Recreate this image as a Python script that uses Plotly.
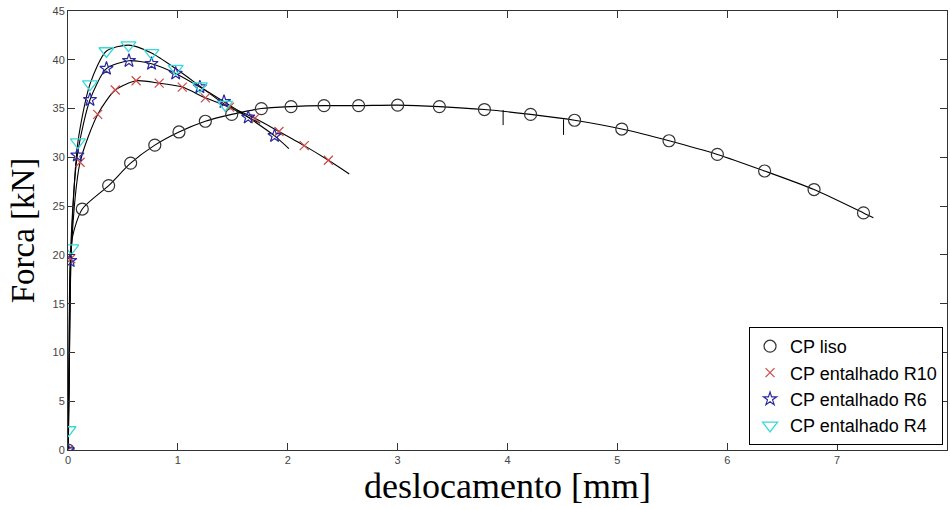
import plotly.graph_objects as go

# ---------------- data ----------------
# CP liso (circles)
liso_mx = [0, 0.13, 0.37, 0.57, 0.79, 1.01, 1.25, 1.49, 1.76, 2.03, 2.33, 2.645,
           3.0, 3.38, 3.79, 4.21, 4.61, 5.04, 5.47, 5.91, 6.34, 6.79, 7.24]
liso_my = [0, 24.7, 27.1, 29.4, 31.25, 32.6, 33.7, 34.4, 35.0, 35.2, 35.3, 35.3,
           35.35, 35.2, 34.9, 34.4, 33.8, 32.9, 31.7, 30.3, 28.6, 26.7, 24.3]
liso_lx = [0, 0.01, 0.02, 0.04, 0.13, 0.37, 0.57, 0.79, 1.01, 1.25, 1.49, 1.76, 2.03,
           2.33, 2.645, 3.0, 3.38, 3.79, 4.21, 4.61, 5.04, 5.47, 5.91, 6.34, 6.79,
           7.24, 7.33]
liso_ly = [0, 6, 16, 21.8, 24.7, 27.1, 29.4, 31.25, 32.6, 33.7, 34.4, 35.0, 35.2,
           35.3, 35.3, 35.35, 35.2, 34.9, 34.4, 33.8, 32.9, 31.7, 30.3, 28.6, 26.7,
           24.3, 23.8]
# small drops in the CP liso record
spike_x = [3.96, 4.51]
spike_top = [34.85, 33.9]
spike_bottom = [33.3, 32.3]

# CP entalhado R10 (x)
r10_mx = [0, 0.025, 0.11, 0.27, 0.43, 0.62, 0.83, 1.04, 1.25, 1.47, 1.70, 1.92, 2.15, 2.37]
r10_my = [0, 19.6, 29.5, 34.4, 36.9, 37.85, 37.6, 37.2, 36.1, 35.15, 34.0, 32.65, 31.2, 29.7]
r10_lx = [0, 0.01, 0.025, 0.11, 0.27, 0.43, 0.62, 0.83, 1.04, 1.25, 1.47, 1.70, 1.92,
          2.15, 2.37, 2.56]
r10_ly = [0, 9, 19.6, 29.5, 34.4, 36.9, 37.85, 37.6, 37.2, 36.1, 35.15, 34.0, 32.65,
          31.2, 29.7, 28.3]

# CP entalhado R6 (stars)
r6_mx = [0, 0.02, 0.085, 0.20, 0.35, 0.555, 0.76, 0.98, 1.20, 1.42, 1.64, 1.88]
r6_my = [0, 19.4, 30.2, 35.9, 39.1, 39.9, 39.6, 38.6, 37.2, 35.7, 34.1, 32.2]
r6_lx = [0, 0.008, 0.02, 0.085, 0.20, 0.35, 0.555, 0.76, 0.98, 1.20, 1.42, 1.64, 1.88, 2.01]
r6_ly = [0, 9, 19.4, 30.2, 35.9, 39.1, 39.9, 39.6, 38.6, 37.2, 35.7, 34.1, 32.2, 30.9]

# CP entalhado R4 (triangles)
r4_mx = [0.005, 0.03, 0.09, 0.20, 0.35, 0.55, 0.76, 0.98, 1.20, 1.43]
r4_my = [2.05, 20.7, 31.55, 37.5, 40.9, 41.5, 40.7, 39.1, 37.3, 35.4]
r4_lx = [0, 0.005, 0.03, 0.09, 0.20, 0.35, 0.55, 0.76, 0.98, 1.20, 1.43, 1.75]
r4_ly = [0, 2.05, 20.7, 31.55, 37.5, 40.9, 41.5, 40.7, 39.1, 37.3, 35.4, 33.5]

x_ticks = [0, 1, 2, 3, 4, 5, 6, 7, 8]
y_ticks = [0, 5, 10, 15, 20, 25, 30, 35, 40, 45]

names = ["CP liso", "CP entalhado R10", "CP entalhado R6", "CP entalhado R4"]

# ---------------- figure ----------------
fig = go.Figure()

line_style = dict(color="black", width=1.1, shape="spline", smoothing=0.7)
for lx, ly in [(liso_lx, liso_ly), (r10_lx, r10_ly), (r6_lx, r6_ly), (r4_lx, r4_ly)]:
    fig.add_trace(go.Scatter(x=lx, y=ly, mode="lines", line=line_style,
                             showlegend=False, hoverinfo="skip"))

sx, sy = [], []
for x, t, b in zip(spike_x, spike_top, spike_bottom):
    sx += [x, x, None]
    sy += [t, b, None]
fig.add_trace(go.Scatter(x=sx, y=sy, mode="lines", line=dict(color="black", width=1),
                         showlegend=False, hoverinfo="skip"))

fig.add_trace(go.Scatter(x=liso_mx, y=liso_my, mode="markers", name=names[0],
                         marker=dict(symbol="circle-open", size=12, color="#333333",
                                     line=dict(width=1.2))))
fig.add_trace(go.Scatter(x=r10_mx, y=r10_my, mode="markers", name=names[1],
                         marker=dict(symbol="x-thin-open", size=9, color="#d04848",
                                     line=dict(width=1.2, color="#d04848"))))
fig.add_trace(go.Scatter(x=r6_mx, y=r6_my, mode="markers", name=names[2],
                         marker=dict(symbol="star-open", size=10, color="#2a2aa0",
                                     line=dict(width=1.2))))
fig.add_trace(go.Scatter(x=r4_mx, y=r4_my, mode="markers", name=names[3],
                         marker=dict(symbol="triangle-down-open", size=13, color="#3ad8d8",
                                     line=dict(width=1.3))))

axis_common = dict(
    showgrid=False, zeroline=False, showline=True, linecolor="#333333", linewidth=1,
    mirror="ticks", ticks="inside", ticklen=7, tickcolor="#333333", tickwidth=1,
    tickfont=dict(family="Liberation Sans", size=11, color="#444444"),
)

fig.update_xaxes(range=[0, 8], tickvals=x_ticks, ticktext=[str(v) for v in x_ticks],
                 title=dict(text="deslocamento [mm]", standoff=5,
                            font=dict(family="Liberation Serif", size=36, color="black")),
                 **axis_common)
fig.update_yaxes(range=[0, 45], tickvals=y_ticks, ticktext=[str(v) for v in y_ticks],
                 title=dict(text="Forca [kN]", standoff=7,
                            font=dict(family="Liberation Serif", size=33, color="black")),
                 **axis_common)

fig.update_layout(
    width=950, height=510,
    margin=dict(l=68, r=3, t=11, b=60),
    paper_bgcolor="white", plot_bgcolor="white",
    legend=dict(x=0.9955, y=0.0114, xanchor="right", yanchor="bottom",
                bgcolor="white", bordercolor="black", borderwidth=1,
                font=dict(family="Liberation Sans", size=18, color="black"),
                itemwidth=30, tracegroupgap=0),
)

fig.write_html("out.html")
